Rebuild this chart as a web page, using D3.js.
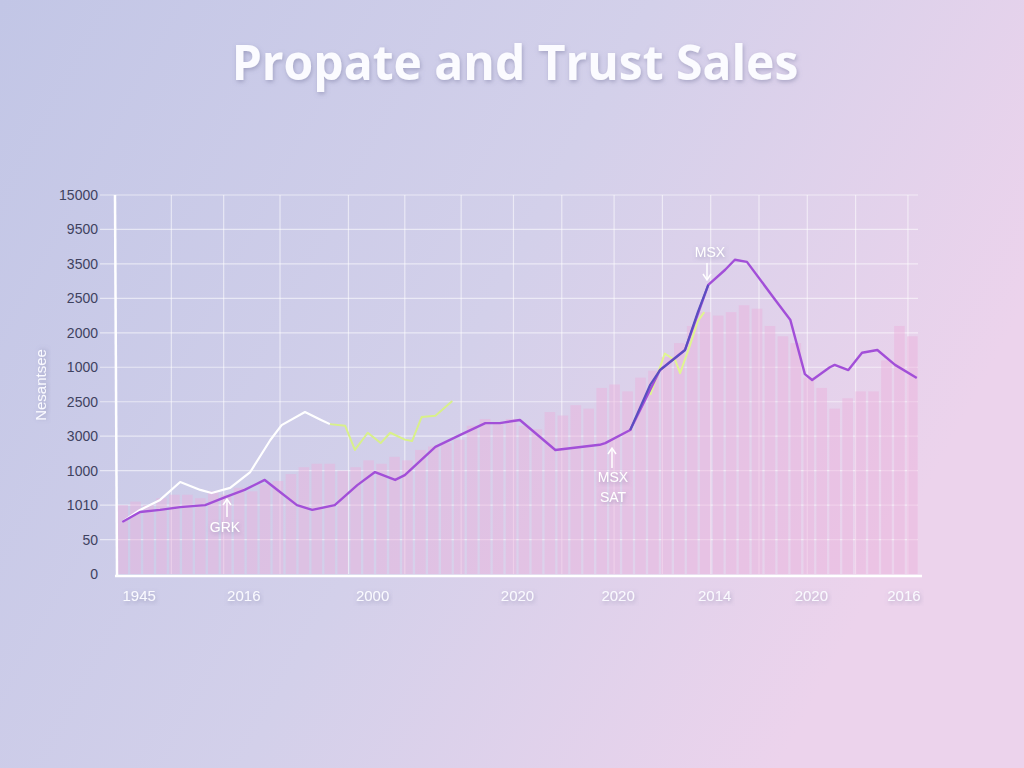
<!DOCTYPE html>
<html><head><meta charset="utf-8">
<script src="https://cdn.jsdelivr.net/npm/d3@7"></script>
<style>body{margin:0;overflow:hidden}svg{display:block}text{font-family:"Liberation Sans",Arial,sans-serif}</style>
</head><body>
<svg id="c" width="1024" height="768"></svg>
<script>
// y tick labels as printed (bottom to top), one per grid row
const yLabels = ["0","50","1010","1000","3000","2500","1000","2000","2500","3500","9500","15000"];
// x tick labels and their positions on 0..100 axis
const xLabels = ["1945","2016","2000","2020","2020","2014","2020","2016"];
const xLabelPos = [3, 16, 32, 50, 62.5, 74.5, 86.5, 98];
const xGrid = [7, 13.5, 20.5, 29, 36, 43, 49.5, 55.5, 62, 68, 74, 80, 86, 92, 98.5];

// bar heights in grid rows
const bars = [2.0,2.1,2.0,2.2,2.3,2.3,2.2,2.4,2.3,2.5,2.4,2.6,2.7,
  2.9,3.1,3.2,3.2,3.0,3.1,3.3,3.2,3.4,3.3,3.6,3.7,3.8,3.9,
  4.3,4.5,4.4,4.5,4.3,4.2,4.7,4.6,4.9,4.8,5.4,5.5,5.3,5.7,
  5.9,6.3,6.7,7.2,7.6,7.5,7.6,7.8,7.7,7.2,6.9,6.7,5.7,5.4,
  4.8,5.1,5.3,5.3,6.2,7.2,6.9];

// lines: [x (0..100), y (grid rows)]
const purple = [[0.9,1.51],[3.1,1.8],[5.6,1.86],[8.1,1.94],[11.2,2.0],[13.7,2.23],[16.1,2.44],[18.6,2.73],[20.5,2.38],[22.6,2.0],[24.5,1.86],[27.3,2.0],[30.1,2.58],[32.3,2.96],[34.8,2.73],[36.0,2.87],[39.8,3.69],[42.9,4.04],[46.0,4.38],[47.8,4.38],[50.3,4.47],[54.7,3.6],[60.2,3.75],[60.9,3.8],[64.0,4.18],[67.7,5.92],[70.8,6.5],[73.7,8.39],[75.8,8.83],[77.0,9.12],[78.5,9.06],[82.0,7.96],[83.9,7.37],[85.7,5.8],[86.6,5.63],[88.8,6.0],[89.4,6.07],[91.1,5.92],[92.8,6.42],[94.7,6.5],[96.9,6.07],[99.6,5.69]];
const white = [[0.9,1.51],[3.1,1.86],[5.6,2.15],[8.1,2.67],[10.6,2.44],[12.0,2.35],[14.3,2.5],[16.8,2.96],[19.3,3.89],[20.7,4.32],[23.6,4.7],[25.6,4.47],[26.7,4.35]];
const green = [[26.7,4.35],[28.6,4.3],[29.8,3.6],[31.4,4.1],[33.0,3.8],[34.2,4.1],[36.0,3.9],[36.9,3.86],[38.1,4.56],[39.8,4.59],[41.9,5.02]];
const green2 = [[66.5,5.2],[68.3,6.4],[69.6,6.2],[70.2,5.83],[71.4,6.62],[72.4,7.34],[73.2,7.6]];
const navy = [[64.0,4.18],[66.5,5.5],[67.7,5.92],[70.8,6.5],[72.4,7.6],[73.7,8.39]];

const svg = d3.select("#c");
const defs = svg.append("defs");
const bg = defs.append("linearGradient").attr("id","bg").attr("x1","0").attr("y1","0").attr("x2","1").attr("y2","0.4");
bg.append("stop").attr("offset","0").attr("stop-color","#c2c6e6");
bg.append("stop").attr("offset","0.55").attr("stop-color","#d3d0ea");
bg.append("stop").attr("offset","1").attr("stop-color","#ecd3ec");
svg.append("rect").attr("width",1024).attr("height",768).attr("fill","url(#bg)");
const f = defs.append("filter").attr("id","sh");
f.append("feDropShadow").attr("dx",1).attr("dy",2).attr("stdDeviation",2).attr("flood-color","#7a7aa0").attr("flood-opacity",0.5);

svg.append("text").attr("x",515).attr("y",80).attr("text-anchor","middle")
  .attr("font-size",48).attr("font-weight","bold").attr("fill","#fbfbff")
  .attr("filter","url(#sh)").style("font-family","'Open Sans',sans-serif").text("Propate and Trust Sales");

const x = d3.scaleLinear().domain([0,100]).range([115,920]);
const y = d3.scaleLinear().domain([0,11]).range([574,195]);

// grid
svg.append("g").selectAll("line").data(d3.range(1,12)).join("line")
  .attr("x1",100).attr("x2",918).attr("y1",d=>y(d)).attr("y2",d=>y(d))
  .attr("stroke","#fff").attr("stroke-opacity",0.55).attr("stroke-width",1.2);
svg.append("g").selectAll("line").data(xGrid).join("line")
  .attr("x1",d=>x(d)).attr("x2",d=>x(d)).attr("y1",y(11)).attr("y2",y(0))
  .attr("stroke","#fff").attr("stroke-opacity",0.55).attr("stroke-width",1.2);

// bars
const bx = d3.scaleBand().domain(d3.range(bars.length)).range([x(0),x(100)]).padding(0.18);
svg.append("g").selectAll("rect").data(bars).join("rect")
  .attr("x",(d,i)=>bx(i)).attr("width",bx.bandwidth())
  .attr("y",d=>y(d)).attr("height",d=>y(0)-y(d))
  .attr("fill","#eab0dc").attr("fill-opacity",0.45);

// axes
svg.append("line").attr("x1",x(0)).attr("x2",x(0)+2).attr("y1",y(11)).attr("y2",y(0)+2).attr("stroke","#fff").attr("stroke-width",2.5);
svg.append("line").attr("x1",x(0)).attr("x2",922).attr("y1",y(0)+2).attr("y2",y(0)+2).attr("stroke","#fff").attr("stroke-width",2.5);

svg.append("g").selectAll("text").data(yLabels).join("text")
  .attr("x",98).attr("y",(d,i)=>y(i)+5).attr("text-anchor","end")
  .attr("font-size",14).attr("fill","#3f4260").text(d=>d);
svg.append("g").selectAll("text").data(xLabels).join("text")
  .attr("x",(d,i)=>x(xLabelPos[i])).attr("y",601).attr("text-anchor","middle")
  .attr("font-size",15).attr("fill","#fafaff").attr("filter","url(#sh)").text(d=>d);
svg.append("text").attr("transform","translate(46,385) rotate(-90)").attr("text-anchor","middle")
  .attr("font-size",15).attr("fill","#fafaff").attr("filter","url(#sh)").text("Nesantsee");

// lines
const line = d3.line().x(d=>x(d[0])).y(d=>y(d[1]));
function draw(data,color,w){
  svg.append("path").datum(data).attr("d",line).attr("fill","none")
    .attr("stroke",color).attr("stroke-width",w).attr("stroke-linejoin","round");
}
draw(white,"#ffffff",2.2);
draw(green,"#d8f08a",2);
draw(green2,"#e0f590",2);
draw(purple,"#a24fd8",2.4);
draw(navy,"#5a4ec0",2.2);

// annotations
function note(tx,ty,lines,ax1,ay1,ax2,ay2){
  lines.forEach((t,i)=>svg.append("text").attr("x",tx).attr("y",ty+i*20).attr("text-anchor","middle")
    .attr("font-size",14).attr("fill","#fff").attr("filter","url(#sh)").text(t));
  svg.append("line").attr("x1",ax1).attr("y1",ay1).attr("x2",ax2).attr("y2",ay2).attr("stroke","#fff").attr("stroke-width",1.5);
  const dir = ay2<ay1 ? 1 : -1;
  svg.append("path").attr("d",`M${ax2-4},${ay2+dir*6}L${ax2},${ay2}L${ax2+4},${ay2+dir*6}`)
    .attr("fill","none").attr("stroke","#fff").attr("stroke-width",1.5);
}
note(225,532,["GRK"],227,517,227,499);
note(613,482,["MSX","SAT"],612,468,612,448);
note(710,257,["MSX"],707,263,707,280);
</script>
</body></html>
